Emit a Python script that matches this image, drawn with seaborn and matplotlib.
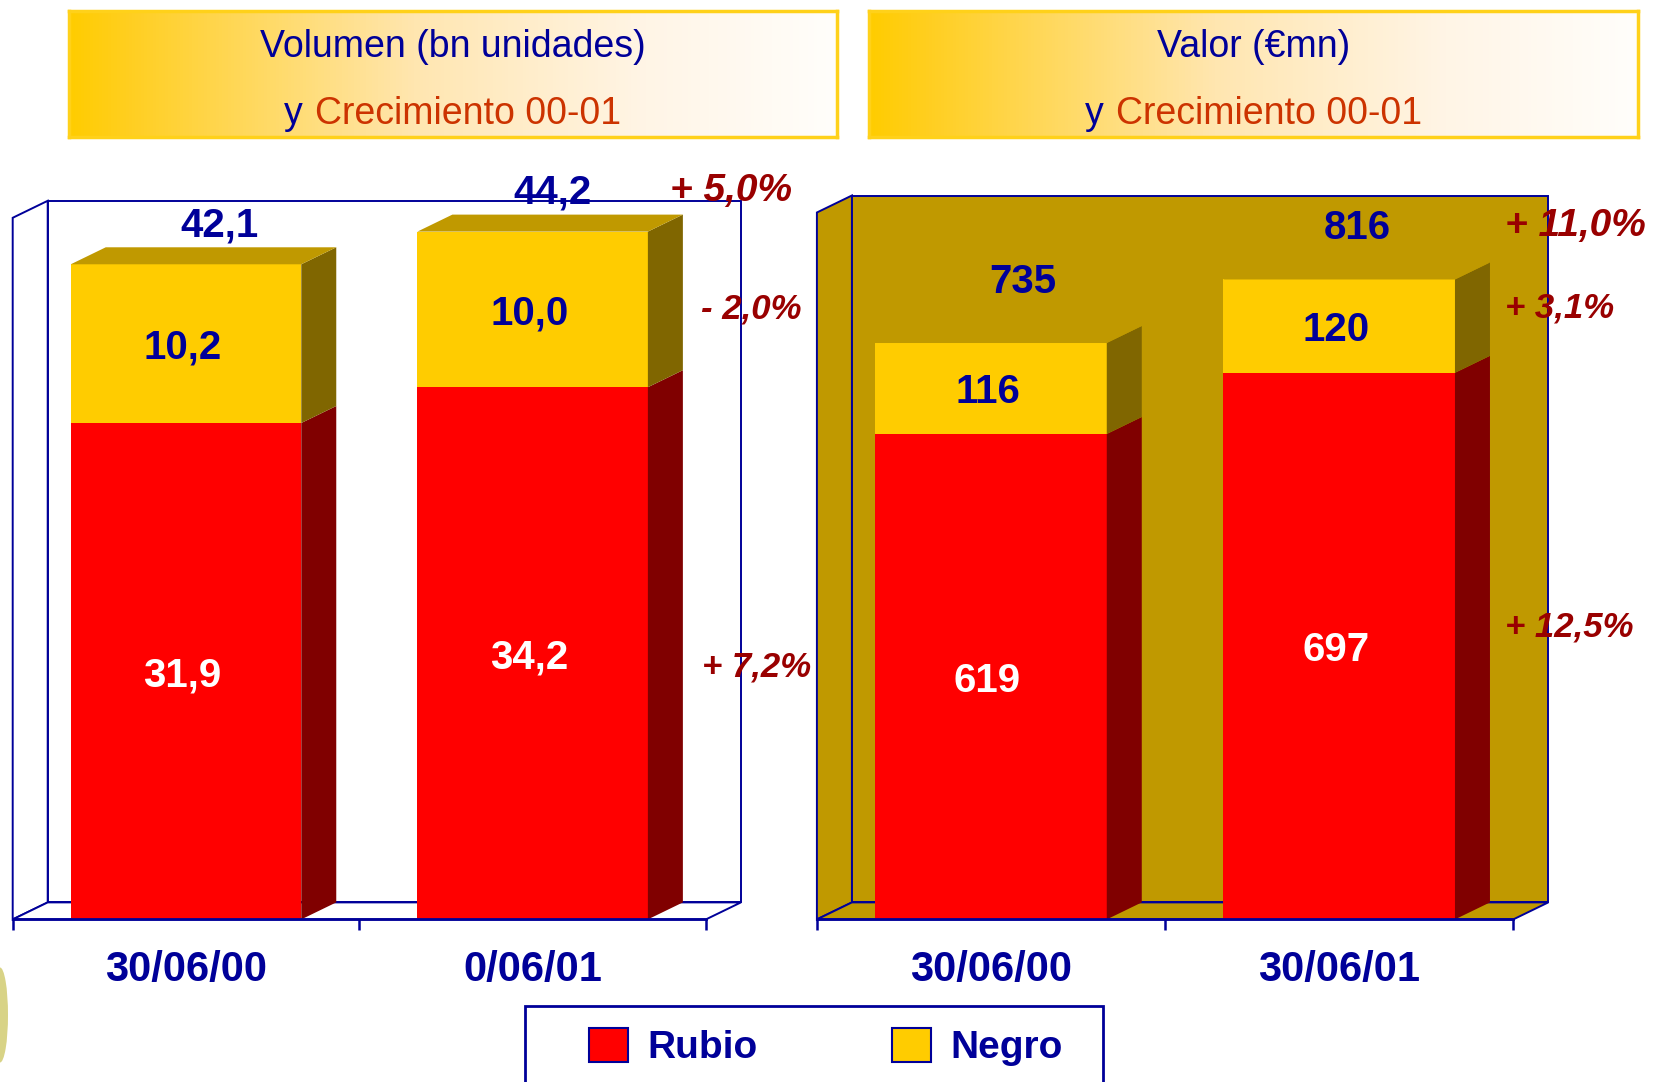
import matplotlib
matplotlib.use("Agg")
import matplotlib.pyplot as plt
import seaborn as sns
from matplotlib import font_manager
from matplotlib.patches import Polygon, Rectangle, Patch, Ellipse
from matplotlib.colors import LinearSegmentedColormap
from matplotlib.offsetbox import TextArea, HPacker, AnnotationBbox
import numpy as np

# --- data ---
fechas_vol = ["30/06/00", "0/06/01"]
fechas_val = ["30/06/00", "30/06/01"]
rubio_vol = [31.9, 34.2]
negro_vol = [10.2, 10.0]
total_vol = [42.1, 44.2]
rubio_val = [619, 697]
negro_val = [116, 120]
total_val = [735, 816]
# growth 00-01: total, negro, rubio
crec_vol = ["+ 5,0%", "- 2,0%", "+ 7,2%"]
crec_val = ["+ 11,0%", "+ 3,1%", "+ 12,5%"]
series = ["Rubio", "Negro"]

# --- style ---
RED, RED_SIDE = "#FF0000", "#800000"
YELLOW, YELLOW_SIDE, TOP = "#FFCC00", "#806600", "#C09900"
NAVY, GROWTH, ORANGE = "#000099", "#990000", "#CC3300"
W, H, DPI = 1657, 1082, 100
DX, DY = 35, 17          # 3d depth in pixels
BAR_W = 0.665

sns.set_style("white")
names = {f.name for f in font_manager.fontManager.ttflist}
NARROW = "Liberation Sans Narrow" if "Liberation Sans Narrow" in names else "Liberation Sans"
TITLE_SIZE = 33 if NARROW == "Liberation Sans Narrow" else 27
plt.rcParams["font.family"] = ["Liberation Sans", "DejaVu Sans"]

fig = plt.figure(figsize=(W / DPI, H / DPI), dpi=DPI)


def px_rect(x0, y0, x1, y1):
    """pixel box (top-left origin) -> figure fraction rect"""
    return [x0 / W, 1 - y1 / H, (x1 - x0) / W, (y1 - y0) / H]


def depth(ax):
    p = ax.transData.transform((0, 0))
    q = ax.transData.inverted().transform((p[0] + DX, p[1] + DY))
    return q[0], q[1]


def panel(ax, cats, rubio, negro, total, ytop, fmt, wall, crec, crec_pos, tot_off):
    ax.set_xlim(-0.5, 1.6)
    ax.set_ylim(0, ytop)
    ax.patch.set_visible(False)
    ddx, ddy = depth(ax)

    # side wall, back wall, floor
    kw = dict(facecolor=wall, edgecolor=NAVY, lw=1.4, zorder=0.5, clip_on=False)
    ax.add_patch(Polygon([(-0.5, 0), (-0.5, ytop - ddy), (-0.5 + ddx, ytop), (-0.5 + ddx, ddy)], **kw))
    ax.add_patch(Polygon([(-0.5 + ddx, ddy), (-0.5 + ddx, ytop), (1.5 + ddx, ytop), (1.5 + ddx, ddy)], **kw))
    ax.add_patch(Polygon([(-0.5, 0), (1.5, 0), (1.5 + ddx, ddy), (-0.5 + ddx, ddy)], **kw))

    sns.barplot(x=cats, y=total, color=YELLOW, saturation=1, width=BAR_W,
                errorbar=None, linewidth=0, ax=ax, zorder=1)
    sns.barplot(x=cats, y=rubio, color=RED, saturation=1, width=BAR_W,
                errorbar=None, linewidth=0, ax=ax, zorder=1)
    ax.set_xlim(-0.5, 1.6)
    ax.set_ylim(0, ytop)

    for i in range(len(cats)):
        x1 = i + BAR_W / 2
        x0 = i - BAR_W / 2
        for lo, hi, c in [(0, rubio[i], RED_SIDE), (rubio[i], total[i], YELLOW_SIDE)]:
            ax.add_patch(Polygon([(x1, lo), (x1, hi), (x1 + ddx, hi + ddy), (x1 + ddx, lo + ddy)],
                                 facecolor=c, lw=0, zorder=1))
        ax.add_patch(Polygon([(x0, total[i]), (x1, total[i]), (x1 + ddx, total[i] + ddy),
                              (x0 + ddx, total[i] + ddy)], facecolor=TOP, lw=0, zorder=1))

        txt = dict(ha="center", va="center_baseline", fontsize=29, fontweight="bold", zorder=3)
        ax.text(i - 0.01, rubio[i] / 2, fmt(rubio[i]), color="white", **txt)
        ax.text(i - 0.01, rubio[i] + negro[i] / 2, fmt(negro[i]), color=NAVY, **txt)
        ax.annotate(fmt(total[i]), (i, total[i]), xytext=tot_off[i], textcoords="offset points",
                    annotation_clip=False, color=NAVY, **txt)

    for s, (x, y, size) in zip(crec, crec_pos):
        ax.text(x, y, s, ha="left", va="center", fontsize=size, fontweight="bold",
                fontstyle="italic", color=GROWTH, zorder=4, clip_on=False)

    for side in ["left", "right", "top"]:
        ax.spines[side].set_visible(False)
    ax.spines["bottom"].set_bounds(-0.5, 1.5)
    ax.spines["bottom"].set_color(NAVY)
    ax.spines["bottom"].set_linewidth(2)
    ax.spines["bottom"].set_zorder(2)
    ax.set_yticks([])
    ax.set_xticks([0, 1], labels=cats)
    ax.set_xticks([-0.5, 0.5, 1.5], minor=True)
    ax.tick_params(axis="x", which="major", length=0, pad=22, labelsize=30, labelcolor=NAVY)
    ax.tick_params(axis="x", which="minor", length=8, width=1.8, color=NAVY, direction="out", bottom=True)
    for lbl in ax.get_xticklabels():
        lbl.set_fontweight("bold")
    ax.set_xlabel("")
    ax.set_ylabel("")


ax_vol = fig.add_axes(px_rect(12.7, 200.8, 740.6, 919.4))
panel(ax_vol, fechas_vol, rubio_vol, negro_vol, total_vol, 46.18,
      lambda v: f"{v:.1f}".replace(".", ","), "white", crec_vol,
      [(1.396, 46.8, 28), (1.485, 39.2, 25), (1.488, 16.2, 25)],
      [(24, 31), (14, 31)])

ax_val = fig.add_axes(px_rect(816.9, 195.5, 1548.1, 919.4))
panel(ax_val, fechas_val, rubio_val, negro_val, total_val, 923.1,
      lambda v: f"{v:d}", TOP, crec_val,
      [(1.476, 884, 28), (1.476, 780, 25), (1.476, 373, 25)],
      [(23, 47), (13, 40)])

# --- header boxes with gradient ---
cmap = LinearSegmentedColormap.from_list(
    "hdr", [(0, "#FFCC00"), (0.08, "#FFCF22"), (0.45, "#FFE6B0"), (0.75, "#FFF5E6"), (1, "#FFFEFB")])
grad = np.linspace(0, 1, 256)[None, :]
for rect, title in [(px_rect(68.7, 10.6, 837, 137.4), "Volumen (bn unidades)"),
                    (px_rect(868.7, 10.6, 1638, 137.4), "Valor (€mn)")]:
    hx = fig.add_axes(rect)
    hx.imshow(grad, cmap=cmap, aspect="auto", extent=[0, 1, 0, 1])
    hx.set_xticks([])
    hx.set_yticks([])
    for sp in hx.spines.values():
        sp.set_color("#FFD11A")
        sp.set_linewidth(2.5)
    hx.text(0.5, 0.715, title, ha="center", va="center", fontsize=TITLE_SIZE,
            family=NARROW, color=NAVY, transform=hx.transAxes)
    line2 = HPacker(children=[
        TextArea("y", textprops=dict(fontsize=TITLE_SIZE, family=NARROW, color=NAVY)),
        TextArea("Crecimiento 00-01", textprops=dict(fontsize=TITLE_SIZE, family=NARROW, color=ORANGE))],
        sep=9, pad=0, align="baseline")
    hx.add_artist(AnnotationBbox(line2, (0.5, 0.185), xycoords="axes fraction",
                                 frameon=False, box_alignment=(0.5, 0.5)))

# --- legend ---
fig.add_artist(Rectangle((525 / W, -0.01), 578 / W, (1082 - 1006) / H + 0.01,
                         transform=fig.transFigure, facecolor="white", edgecolor=NAVY,
                         lw=2, zorder=0))
handles = [Patch(facecolor=RED, edgecolor=NAVY, lw=1.5), Patch(facecolor=YELLOW, edgecolor=NAVY, lw=1.5)]
leg = fig.legend(handles, series, loc="center left", bbox_to_anchor=(589 / W, 1 - 1047 / H),
                 ncol=2, frameon=False, fontsize=28, handlelength=1.0, handleheight=1.0,
                 handletextpad=0.5, columnspacing=3.45, borderpad=0, borderaxespad=0)
for t in leg.get_texts():
    t.set_color(NAVY)
    t.set_fontweight("bold")

# remnant of slide artwork at the left edge
fig.add_artist(Ellipse((0, 1 - 1015 / H), 16 / W, 95 / H, transform=fig.transFigure,
                       facecolor="#CFC868", edgecolor="none", alpha=0.8))

fig.savefig("out.png", dpi=DPI)
